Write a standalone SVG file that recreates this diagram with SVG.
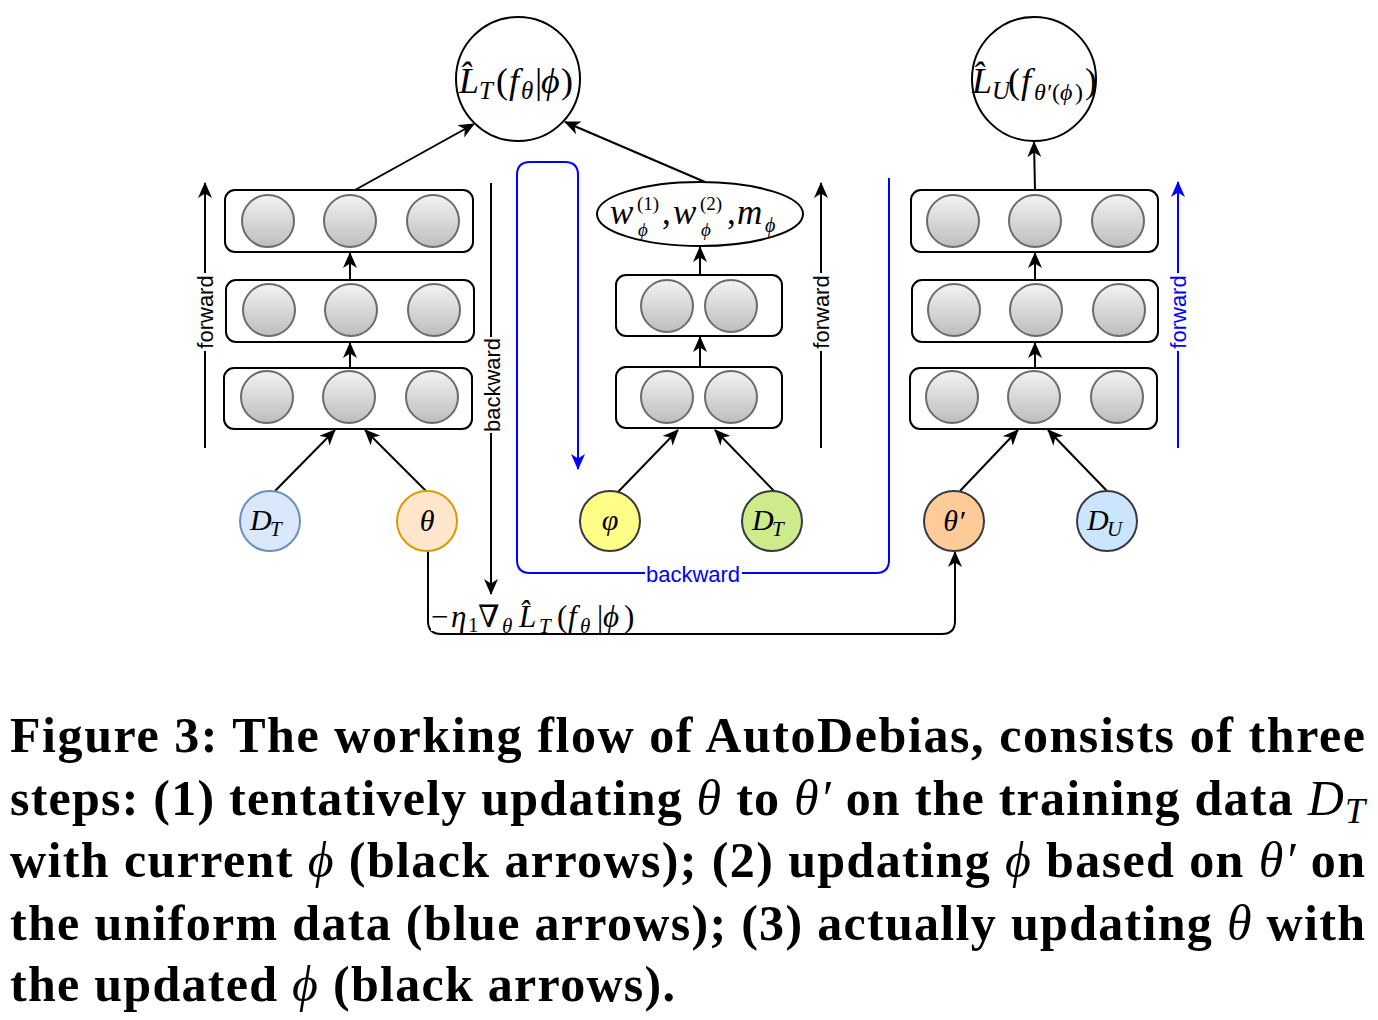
<svg xmlns="http://www.w3.org/2000/svg" width="1378" height="1020" viewBox="0 0 1378 1020">
<defs>
<linearGradient id="g" x1="0" y1="0" x2="0" y2="1">
<stop offset="0" stop-color="#f3f3f3"/>
<stop offset="1" stop-color="#bdbdbd"/>
</linearGradient>
<marker id="a" viewBox="0 0 16 14" refX="15" refY="7" markerWidth="16" markerHeight="14" orient="auto" markerUnits="userSpaceOnUse">
<path d="M0,0 L16,7 L0,14 L4.5,7 z" fill="#000"/>
</marker>
<marker id="b" viewBox="0 0 16 14" refX="15" refY="7" markerWidth="16" markerHeight="14" orient="auto" markerUnits="userSpaceOnUse">
<path d="M0,0 L16,7 L0,14 L4.5,7 z" fill="#0000ff"/>
</marker>
</defs>
<style>
.box{fill:#fff;stroke:#000;stroke-width:2}
.n{fill:url(#g);stroke:#6b6b6b;stroke-width:2}
.big{fill:#fff;stroke:#000;stroke-width:2}
.c{fill:none;stroke:#000;stroke-width:2;marker-end:url(#a)}
.cb{fill:none;stroke:#0000ff;stroke-width:2;marker-end:url(#b)}
.m{font-family:"Liberation Serif","DejaVu Serif",serif;fill:#000}
.i{font-style:italic}
.lbl{font-family:"Liberation Sans",Arial,sans-serif;font-size:22px;fill:#000}
.blue{fill:#0000ff}
.cap{font-family:"Liberation Serif","Times New Roman",serif;font-weight:bold;font-size:50px;fill:#000}
.mc{font-weight:normal;font-style:italic}
</style>

<g id="connectors">
<line class="c" x1="355" y1="190" x2="474" y2="124"/>
<line class="c" x1="705" y1="182" x2="565" y2="122"/>
<line class="c" x1="350" y1="279" x2="350" y2="253"/>
<line class="c" x1="350" y1="368" x2="350" y2="343"/>
<line class="c" x1="275" y1="491" x2="335" y2="430"/>
<line class="c" x1="426" y1="491" x2="365" y2="430"/>
<line class="c" x1="700" y1="275" x2="700" y2="247"/>
<line class="c" x1="700" y1="367" x2="700" y2="337"/>
<line class="c" x1="618" y1="492" x2="678" y2="430"/>
<line class="c" x1="775" y1="492" x2="715" y2="430"/>
<line class="c" x1="1035" y1="190" x2="1034" y2="142"/>
<line class="c" x1="1035" y1="280" x2="1035" y2="253"/>
<line class="c" x1="1035" y1="368" x2="1035" y2="343"/>
<line class="c" x1="960" y1="491" x2="1018" y2="430"/>
<line class="c" x1="1107" y1="491" x2="1048" y2="430"/>
<line class="c" x1="205" y1="448" x2="205" y2="183"/>
<line class="c" x1="821" y1="448" x2="821" y2="183"/>
<line class="cb" x1="1178" y1="448" x2="1178" y2="182"/>
<line class="c" x1="491" y1="183" x2="491" y2="594"/>
<path class="cb" d="M889,178 L889,560 Q889,573 876,573 L530,573 Q517,573 517,560 L517,175 Q517,162 530,162 L565,162 Q578,162 578,175 L578,469"/>
<path class="c" d="M428,551 L428,621 Q428,634 441,634 L942,634 Q955,634 955,621 L955,552"/>
<g transform="translate(205,312) rotate(-90)">
<rect x="-39" y="-11" width="78" height="22" fill="#fff"/>
<text class="lbl" x="0" y="0" text-anchor="middle" dominant-baseline="central">forward</text>
</g>
<g transform="translate(492,385) rotate(-90)">
<rect x="-48" y="-11" width="96" height="22" fill="#fff"/>
<text class="lbl" x="0" y="0" text-anchor="middle" dominant-baseline="central">backward</text>
</g>
<g transform="translate(821,312) rotate(-90)">
<rect x="-39" y="-11" width="78" height="22" fill="#fff"/>
<text class="lbl" x="0" y="0" text-anchor="middle" dominant-baseline="central">forward</text>
</g>
<g transform="translate(1178,312) rotate(-90)">
<rect x="-39" y="-11" width="78" height="22" fill="#fff"/>
<text class="lbl blue" x="0" y="0" text-anchor="middle" dominant-baseline="central">forward</text>
</g>
<rect x="645" y="563" width="97" height="22" fill="#fff"/>
<text class="lbl blue" x="693" y="574" text-anchor="middle" dominant-baseline="central">backward</text>
<rect x="431" y="598" width="206" height="33" fill="#fff"/>
<text class="m" font-size="31"><tspan x="431" y="627">−</tspan><tspan class="i" x="451" y="627">η</tspan><tspan x="468" y="632" font-size="21">1</tspan><tspan x="478" y="627">∇</tspan><tspan class="i" x="502" y="633" font-size="21">θ</tspan><tspan class="i" x="519" y="627">L̂</tspan><tspan class="i" x="539" y="633" font-size="21">T</tspan><tspan x="557" y="627">(</tspan><tspan class="i" x="568" y="627">f</tspan><tspan class="i" x="580" y="633" font-size="21">θ</tspan><tspan x="597" y="627">|</tspan><tspan class="i" x="603" y="627">ϕ</tspan><tspan x="624" y="627">)</tspan></text>
</g>

<g id="loss-T">
<circle class="big" cx="518" cy="79" r="62"/>
<text class="m" font-size="36"><tspan class="i" x="459" y="93">L̂</tspan><tspan class="i" x="479" y="99" font-size="25">T</tspan><tspan x="496" y="93">(</tspan><tspan class="i" x="509" y="93">f</tspan><tspan class="i" x="521" y="99" font-size="25">θ</tspan><tspan x="535" y="93">|</tspan><tspan class="i" x="541" y="93">ϕ</tspan><tspan x="561" y="93">)</tspan></text>
</g>

<g id="loss-U">
<circle class="big" cx="1034" cy="79" r="62"/>
<text class="m" font-size="36"><tspan class="i" x="972" y="93">L̂</tspan><tspan class="i" x="992" y="99" font-size="25">U</tspan><tspan x="1008" y="93">(</tspan><tspan class="i" x="1021" y="93">f</tspan><tspan class="i" x="1034" y="100" font-size="24">θ′</tspan><tspan x="1052" y="100" font-size="24">(</tspan><tspan class="i" x="1060" y="100" font-size="24">ϕ</tspan><tspan x="1075" y="100" font-size="24">)</tspan><tspan x="1085" y="93">)</tspan></text>
</g>

<g id="left-net">
<rect class="box" x="225" y="190" width="248" height="62" rx="10"/>
<circle class="n" cx="268" cy="221" r="26"/><circle class="n" cx="350" cy="221" r="26"/><circle class="n" cx="433" cy="221" r="26"/>
<rect class="box" x="226" y="280" width="248" height="62" rx="10"/>
<circle class="n" cx="269" cy="310" r="26"/><circle class="n" cx="351" cy="310" r="26"/><circle class="n" cx="434" cy="310" r="26"/>
<rect class="box" x="224" y="368" width="248" height="61" rx="10"/>
<circle class="n" cx="267" cy="397" r="26"/><circle class="n" cx="349" cy="397" r="26"/><circle class="n" cx="432" cy="397" r="26"/>
</g>

<g id="mid-net">
<ellipse class="big" cx="700" cy="214" rx="103" ry="32"/>
<text class="m" font-size="35"><tspan class="i" x="610" y="224">w</tspan><tspan x="637" y="210" font-size="19">(1)</tspan><tspan class="i" x="638" y="236" font-size="19">ϕ</tspan><tspan x="662" y="224">,</tspan><tspan class="i" x="673" y="224">w</tspan><tspan x="700" y="210" font-size="19">(2)</tspan><tspan class="i" x="701" y="236" font-size="19">ϕ</tspan><tspan x="727" y="224">,</tspan><tspan class="i" x="737" y="224">m</tspan><tspan class="i" x="765" y="232" font-size="20">ϕ</tspan></text>
<rect class="box" x="616" y="275" width="166" height="61" rx="10"/>
<circle class="n" cx="667" cy="306" r="26"/><circle class="n" cx="731" cy="306" r="26"/>
<rect class="box" x="616" y="367" width="166" height="61" rx="10"/>
<circle class="n" cx="667" cy="397" r="26"/><circle class="n" cx="731" cy="397" r="26"/>
</g>

<g id="right-net">
<rect class="box" x="911" y="190" width="247" height="62" rx="10"/>
<circle class="n" cx="953" cy="221" r="26"/><circle class="n" cx="1035" cy="221" r="26"/><circle class="n" cx="1118" cy="221" r="26"/>
<rect class="box" x="912" y="280" width="246" height="62" rx="10"/>
<circle class="n" cx="954" cy="310" r="26"/><circle class="n" cx="1036" cy="310" r="26"/><circle class="n" cx="1119" cy="310" r="26"/>
<rect class="box" x="910" y="368" width="247" height="61" rx="10"/>
<circle class="n" cx="952" cy="397" r="26"/><circle class="n" cx="1034" cy="397" r="26"/><circle class="n" cx="1117" cy="397" r="26"/>
</g>

<g id="node-DT">
<circle cx="270" cy="521" r="30" fill="#dae8fc" stroke="#6c8ebf" stroke-width="2"/>
<text class="m" font-size="30"><tspan class="i" x="250" y="530">D</tspan><tspan class="i" x="270" y="536" font-size="21">T</tspan></text>
</g>
<g id="node-theta">
<circle cx="427" cy="521" r="30" fill="#ffe6cc" stroke="#d79b00" stroke-width="2"/>
<text class="m i" font-size="30" x="427" y="531" text-anchor="middle">θ</text>
</g>
<g id="node-varphi">
<circle cx="610" cy="521" r="30" fill="#ffff88" stroke="#36393d" stroke-width="2"/>
<text class="m i" font-size="30" x="610" y="530" text-anchor="middle">φ</text>
</g>
<g id="node-DT2">
<circle cx="772" cy="521" r="30" fill="#cdeb8b" stroke="#36393d" stroke-width="2"/>
<text class="m" font-size="30"><tspan class="i" x="752" y="530">D</tspan><tspan class="i" x="772" y="536" font-size="21">T</tspan></text>
</g>
<g id="node-thetap">
<circle cx="954" cy="521" r="30" fill="#ffcc99" stroke="#36393d" stroke-width="2"/>
<text class="m i" font-size="30" x="954" y="531" text-anchor="middle">θ′</text>
</g>
<g id="node-DU">
<circle cx="1107" cy="521" r="30" fill="#cce5ff" stroke="#36393d" stroke-width="2"/>
<text class="m" font-size="30"><tspan class="i" x="1087" y="530">D</tspan><tspan class="i" x="1107" y="536" font-size="21">U</tspan></text>
</g>

<g id="caption">
<text class="cap" x="10" y="752" textLength="1355" lengthAdjust="spacing">Figure 3: The working flow of AutoDebias, consists of three</text>
<text class="cap" x="10" y="815" textLength="1355" lengthAdjust="spacing">steps: (1) tentatively updating <tspan class="mc">θ</tspan> to <tspan class="mc">θ′</tspan> on the training data <tspan class="mc">D</tspan><tspan class="mc" font-size="36" dy="8">T</tspan></text>
<text class="cap" x="10" y="877" textLength="1355" lengthAdjust="spacing">with current <tspan class="mc">ϕ</tspan> (black arrows); (2) updating <tspan class="mc">ϕ</tspan> based on <tspan class="mc">θ′</tspan> on</text>
<text class="cap" x="10" y="940" textLength="1355" lengthAdjust="spacing">the uniform data (blue arrows); (3) actually updating <tspan class="mc">θ</tspan> with</text>
<text class="cap" x="10" y="1001" textLength="665" lengthAdjust="spacing">the updated <tspan class="mc">ϕ</tspan> (black arrows).</text>
</g>
</svg>
